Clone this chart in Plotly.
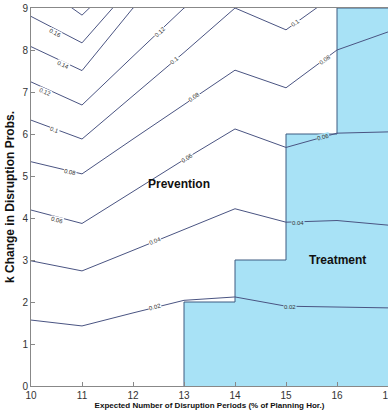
import plotly.graph_objects as go

# Grid of expected disruption periods
x_vals = [10, 11, 12, 13, 14, 15, 16, 17]

# Contour levels and their k-values (y) at each x
levels = ["0.02", "0.04", "0.06", "0.08", "0.1", "0.12", "0.14", "0.16", "0.18"]
y_002 = [1.57, 1.43, 1.74, 2.04, 2.12, 1.90, 1.88, 1.86]
y_004 = [2.98, 2.74, 3.23, 3.73, 4.22, 3.90, 3.94, 3.83]
y_006 = [4.19, 3.87, 4.63, 5.39, 6.12, 5.68, 6.02, 6.05]
y_008 = [5.34, 5.05, 5.88, 6.71, 7.52, 7.10, 8.00, 8.43]
y_010 = [6.33, 5.88, 6.91, 7.94, 9.00, 8.48, 9.35, 9.80]
y_012 = [7.24, 6.69, 7.85, 9.00, 9.60, 9.60, 9.90, 10.2]
y_014 = [8.08, 7.51, 9.00, 9.80, 10.2, 10.2, 10.4, 10.6]
y_016 = [8.80, 8.17, 9.55, 10.3, 10.8, 10.8, 11.0, 11.2]
y_018 = [9.70, 8.83, 10.0, 10.8, 11.3, 11.3, 11.5, 11.7]
contour_y = [y_002, y_004, y_006, y_008, y_010, y_012, y_014, y_016, y_018]

# Treatment region: step boundary (k threshold per x interval)
treat_x = [13, 13, 14, 15, 16, 17]
treat_y = [0, 2, 3, 6, 9, 9]

# Contour labels: text, x, y, angle, inside treatment region
lab_text = ["0.16", "0.14", "0.12", "0.1", "0.08", "0.06", "0.04", "0.02",
            "0.12", "0.1", "0.08", "0.06", "0.1", "0.08", "0.06", "0.04", "0.02"]
lab_x = [10.47, 10.63, 10.27, 10.47, 10.76, 10.50, 12.43, 12.43,
         12.53, 12.82, 13.20, 13.06, 15.18, 15.76, 15.73, 15.24, 15.07]
lab_y = [8.40, 7.64, 7.00, 6.10, 5.10, 3.95, 3.45, 1.87,
         8.43, 7.76, 6.88, 5.43, 8.64, 7.76, 5.93, 3.88, 1.89]
lab_ang = [27, 25, 24, 20, 13, 14, -22, -14,
           -43, -40, -34, -32, -36, -36, -15, 0, 0]
lab_blue = [False] * 14 + [True, True, True]

x_ticks = [10, 11, 12, 13, 14, 15, 16, 17]
y_ticks = [0, 1, 2, 3, 4, 5, 6, 7, 8, 9]

BLUE = "#a8e2f6"
LINE = "#4a5482"

fig = go.Figure()

fig.add_trace(go.Scatter(
    x=treat_x, y=treat_y, mode="lines", line=dict(shape="hv", color="#3d5a80", width=1),
    fill="tozeroy", fillcolor=BLUE, hoverinfo="skip", showlegend=False))

for lev, ys in zip(levels, contour_y):
    fig.add_trace(go.Scatter(x=x_vals, y=ys, mode="lines", name=lev,
                             line=dict(color=LINE, width=1), showlegend=False))

for t, lx, ly, a, b in zip(lab_text, lab_x, lab_y, lab_ang, lab_blue):
    fig.add_annotation(x=lx, y=ly, text=t, showarrow=False, textangle=a,
                       font=dict(size=6, color="#333333", family="Liberation Sans"),
                       bgcolor=BLUE if b else "white", borderpad=0)

fig.add_annotation(x=12.9, y=4.8, text="<b>Prevention</b>", showarrow=False,
                   font=dict(size=12, color="#111111", family="Liberation Sans Narrow, Liberation Sans"))
fig.add_annotation(x=16.0, y=3.0, text="<b>Treatment</b>", showarrow=False,
                   font=dict(size=12, color="#111111", family="Liberation Sans Narrow, Liberation Sans"))

axis_common = dict(showline=True, linecolor="#888888", linewidth=1, mirror=True,
                   ticks="inside", ticklen=4, tickcolor="#888888", showgrid=False,
                   zeroline=False, ticklabeloverflow="allow",
                   tickfont=dict(size=10, color="#333333",
                                 family="Liberation Sans Narrow, Liberation Sans"))

fig.update_xaxes(range=[10, 17], tickvals=x_ticks, **axis_common,
                 title=dict(text="<b>Expected Number of Disruption Periods (% of Planning Hor.)</b>",
                            font=dict(size=8, color="#111111",
                                      family="Liberation Sans Narrow, Liberation Sans"),
                            standoff=1))
fig.update_yaxes(range=[0, 9], tickvals=y_ticks, **axis_common,
                 title=dict(text="<b>k Change in Disruption Probs.</b>",
                            font=dict(size=12, color="#111111",
                                      family="Liberation Sans, Arial"),
                            standoff=5))

fig.update_layout(width=388, height=414,
                  margin=dict(l=31, r=0, t=8, b=28, autoexpand=False),
                  paper_bgcolor="white", plot_bgcolor="white", showlegend=False)

fig.write_html("out.html", config={"displayModeBar": False, "staticPlot": True},
               post_script="document.body.style.margin='0';document.body.style.overflow='hidden';")
